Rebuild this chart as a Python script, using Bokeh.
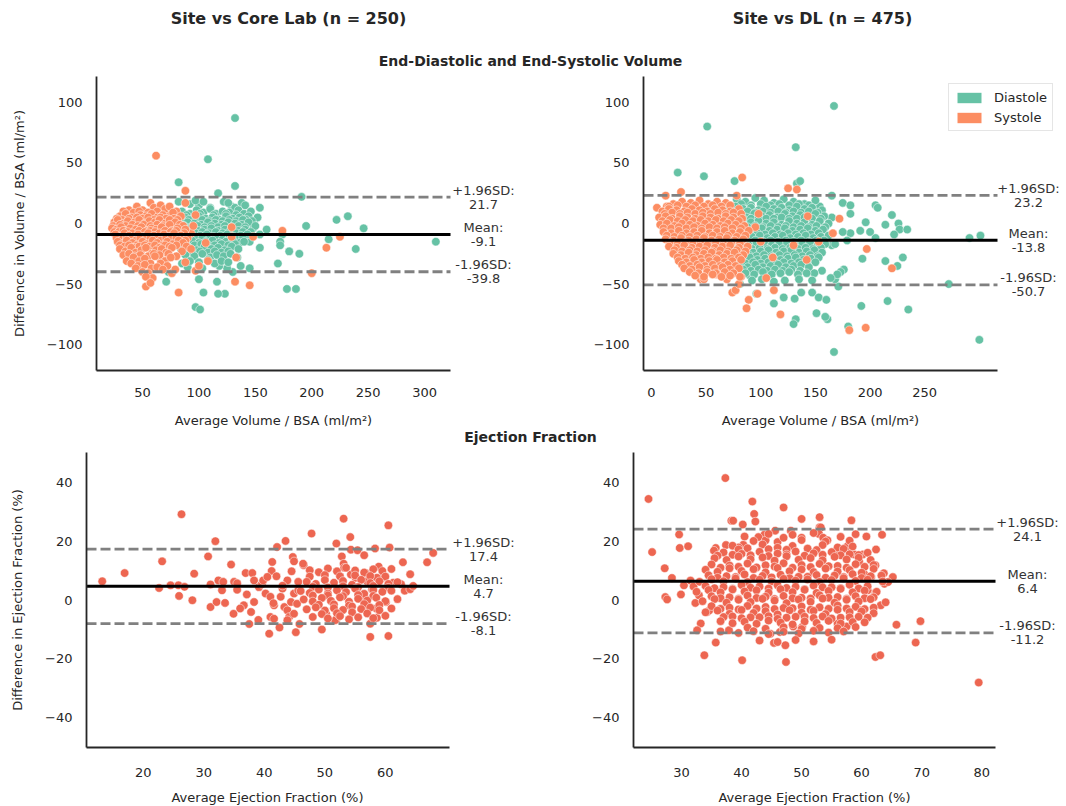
from bokeh.plotting import figure
from bokeh.layouts import column, row
from bokeh.models import Legend, LegendItem, Range1d, FixedTicker, CustomJSTickFormatter
from bokeh.embed import file_html
from bokeh.resources import INLINE
from bokeh.core.properties import value

# ---------------- data ----------------
COL_TITLES = ["Site vs Core Lab (n = 250)", "Site vs DL (n = 475)"]
SEC_TITLES = ["End-Diastolic and End-Systolic Volume", "Ejection Fraction"]
VOL_XLABEL = "Average Volume / BSA (ml/m²)"
VOL_YLABEL = "Difference in Volume / BSA (ml/m²)"
EF_XLABEL = "Average Ejection Fraction (%)"
EF_YLABEL = "Difference in Ejection Fraction (%)"
LEGEND_LABELS = ["Diastole", "Systole"]

# Bland-Altman statistics (mean, +1.96SD, -1.96SD)
STATS_VOL_CL = [-9.1, 21.7, -39.8]
STATS_VOL_DL = [-13.8, 23.2, -50.7]
STATS_EF_CL = [4.7, 17.4, -8.1]
STATS_EF_DL = [6.4, 24.1, -11.2]
STAT_NAMES = ["Mean:", "+1.96SD:", "-1.96SD:"]

# Site vs Core Lab, diastole (average, difference)
CL_DIA = [(132,87),(108,53),(82,34),(132,31),(117,25),(191,22),(122,18),(138,17),(129,14),(132,13),(222,3),(232,6),
          (195,-2),(246,-4),(310,-15),(215,-13),(239,-21),(174,-9),(172,-15),(172,-18),(180,-23),(189,-25),(170,-33),
          (178,-54),(186,-54),(154,-20),(145,-15),(149,2),(148,-4),(154,-9),(145,-37),(137,-35),(130,-40),(125,-37),
          (118,-35),(116,-48),(123,-58),(117,-58),(104,-57),(97,-69),(101,-71),(100,-46),(103,-37),(71,-48),(73,-40),
          (85,-33),(90,-36),(82,18),(92,16),(100,15),(110,13),(60,-18),(66,-22),(154,13),(141,15),(97,19),(104,18),(126,17),
          (85,10),(92,8),(98,11),(104,9),(110,12),(115,8),(121,10),(127,9),(135,11),(140,8),(146,10),
          (89,7),(101,8),(113,7),(124,8),(133,7),(144,6),
          (80,4),(88,5),(94,3),(100,6),(106,4),(112,5),(118,3),(124,6),(130,4),(136,5),(142,3),(152,5),
          (85,2),(91,3),(97,2),(103,3),(109,2),(115,3),(121,2),(127,3),(133,2),(139,3),(147,2),
          (76,0),(83,-1),(90,1),(96,0),(102,-1),(108,1),(114,0),(120,-1),(126,1),(132,0),(138,-1),(144,1),
          (80,-3),(87,-2),(93,-3),(99,-2),(105,-3),(111,-2),(117,-3),(123,-2),(129,-3),(135,-2),(141,-3),(150,-2),
          (78,-5),(86,-6),(93,-4),(99,-6),(105,-5),(111,-4),(117,-6),(123,-5),(129,-4),(135,-6),(141,-5),(160,-5),
          (84,-8),(91,-7),(97,-8),(103,-7),(109,-8),(115,-7),(121,-8),(127,-7),(133,-8),(139,-7),(146,-7),
          (74,-10),(82,-11),(89,-9),(95,-11),(101,-10),(107,-9),(113,-11),(119,-10),(125,-9),(131,-11),(137,-10),(143,-9),
          (85,-13),(91,-12),(97,-13),(103,-12),(109,-13),(115,-12),(121,-13),(127,-12),(133,-13),(139,-12),
          (80,-15),(87,-16),(94,-14),(100,-16),(106,-15),(112,-14),(118,-16),(124,-15),(130,-14),(136,-16),(140,-15),
          (89,-18),(96,-18),(102,-17),(108,-18),(114,-18),(120,-17),(126,-18),(132,-17),
          (84,-21),(91,-20),(98,-22),(105,-19),(111,-21),(117,-20),(123,-22),(129,-19),(135,-21),
          (94,-24),(101,-23),(108,-24),(114,-23),(120,-24),(126,-23),
          (88,-26),(96,-27),(103,-25),(110,-28),(116,-26),(122,-27),(128,-25),(134,-28),
          (92,-31),(100,-32),(108,-30),(114,-33),(120,-31),(126,-32)]

# Site vs Core Lab, systole
CL_SYS = [(62,56),(88,27),(88,17),(129,-3),(174,-6),(225,-11),(213,-20),(200,-41),(145,-51),(132,-48),(129,-11),
          (148,-11),(93,-8),(95,-2),(73,8),(72,-3),(66,-29),(133,-28),(106,-16),(108,-31),(97,7),(97,-39),(82,-57),(100,-35),
          (38,11),(45,14),(50,11),(57,17),(60,13),(66,15),(70,12),(74,14),(80,10),(42,9),
          (33,10),(47,10),(55,9),(63,10),(77,9),
          (30,6),(35,8),(40,5),(48,7),(53,6),(58,8),(63,5),(68,7),(78,4),(84,6),
          (27,4),(32,3),(38,4),(45,5),(50,4),(55,5),(60,3),(66,5),(71,4),(81,3),
          (25,1),(28,3),(33,0),(37,2),(43,1),(47,3),(52,0),(56,2),(61,1),(65,3),(70,0),(74,3),(79,1),(83,-1),
          (24,-2),(30,-1),(35,-2),(41,-1),(46,-2),(51,-1),(57,-2),(63,-1),(68,-2),(74,-1),(86,-2),
          (23,-4),(27,-5),(31,-3),(35,-6),(39,-4),(44,-5),(49,-3),(54,-6),(58,-4),(62,-5),(67,-3),(76,-6),(81,-4),(88,-5),
          (25,-7),(29,-7),(33,-6),(37,-7),(41,-8),(47,-6),(52,-7),(57,-6),(61,-7),(65,-8),(70,-6),(75,-7),(80,-6),(87,-8),
          (26,-9),(30,-11),(34,-8),(38,-10),(42,-12),(46,-9),(51,-11),(55,-8),(60,-10),(64,-12),(69,-9),(73,-11),(78,-8),
          (84,-10),(90,-12),
          (27,-12),(32,-13),(36,-12),(40,-13),(44,-14),(48,-12),(53,-13),(57,-12),(62,-13),(66,-14),(71,-12),(75,-13),
          (80,-12),(88,-14),
          (28,-15),(32,-17),(36,-14),(41,-16),(45,-18),(50,-15),(54,-17),(59,-14),(63,-16),(68,-18),(72,-15),(77,-17),
          (82,-14),(86,-16),
          (30,-18),(34,-19),(38,-18),(43,-20),(47,-19),(52,-18),(56,-19),(61,-18),(65,-20),(70,-18),(74,-19),(80,-18),(89,-19),
          (30,-21),(35,-23),(40,-20),(44,-24),(49,-22),(53,-20),(58,-25),(62,-22),(67,-21),(71,-24),(76,-20),(85,-23),(93,-21),
          (33,-26),(38,-25),(43,-27),(48,-26),(55,-27),(60,-25),(65,-26),(73,-25),(80,-27),
          (36,-31),(42,-28),(47,-31),(52,-29),(57,-33),(61,-27),(70,-31),(75,-28),(88,-32),
          (40,-33),(46,-35),(52,-34),(58,-37),(66,-33),(72,-35),
          (44,-37),(50,-40),(55,-41),(59,-45),(53,-44),(63,-36),(68,-38),(76,-41),(79,-38),
          (53,-52),(57,-49)]

# Site vs DL, diastole
DL_DIA = [(167,97),(51,80),(132,63),(24,42),(48,39),(76,35),(133,33),(136,35),(165,23),(205,15),(207,13),(220,7),
          (214,-1),(226,0),(227,-5),(222,-9),(234,-5),(291,-12),(301,-10),(272,-50),(300,-96),(167,-106),(235,-71),
          (216,-64),(192,-68),(180,-85),(161,-79),(159,-77),(151,-74),(132,-79),(130,-83),(112,-66),(96,-58),(121,-61),
          (131,-62),(137,-57),(147,-57),(153,-61),(160,-63),(171,-52),(168,-46),(176,-38),(173,-40),(170,-42),(164,-45),
          (156,-39),(149,-41),(147,-47),(193,-29),(214,-31),(230,-28),(225,-35),(196,1),(191,-6),(200,-7),(205,-12),
          (182,-8),(179,-14),(175,-7),(175,17),(182,15),(182,8),(165,-18),(168,-17),(165,5),(154,14),(141,15),(146,13),
          (76,3),(78,-14),(60,7),(67,-31),(79,-37),(90,-43),(81,-50),
          (78,20),(86,18),(95,21),(103,19),(112,17),(121,20),(130,18),(140,16),(150,19),
          (82,16),(91,15),(100,16),(109,15),(117,16),(126,15),(135,16),(144,15),
          (70,12),(77,14),(84,12),(91,13),(98,11),(105,14),(112,12),(119,13),(126,11),(133,14),(140,12),(147,13),(156,11),
          (74,10),(81,9),(88,10),(95,9),(102,10),(109,9),(116,10),(123,9),(130,10),(137,9),(144,10),(152,9),
          (66,6),(73,8),(80,7),(87,5),(94,8),(101,6),(108,7),(115,5),(122,8),(129,6),(136,7),(143,5),(150,8),(158,6),
          (70,4),(77,5),(84,4),(91,4),(98,5),(105,4),(112,4),(119,5),(126,4),(133,4),(140,5),(147,4),(155,4),
          (63,1),(70,0),(77,2),(84,-1),(91,1),(98,2),(105,0),(112,1),(119,-1),(126,2),(133,0),(140,1),(147,-1),(154,2),(162,0),
          (67,-2),(74,-3),(81,-2),(88,-3),(95,-2),(102,-3),(109,-2),(116,-3),(123,-2),(130,-3),(137,-2),(144,-3),(151,-2),(159,-3),
          (66,-5),(73,-6),(80,-4),(87,-6),(94,-5),(101,-4),(108,-6),(115,-5),(122,-4),(129,-6),(136,-5),(143,-4),(150,-6),(157,-5),
          (69,-8),(76,-9),(83,-8),(90,-9),(97,-8),(104,-9),(111,-8),(118,-9),(125,-8),(132,-9),(139,-8),(146,-9),(153,-8),
          (64,-11),(71,-12),(78,-10),(85,-12),(92,-11),(99,-10),(106,-12),(113,-11),(120,-10),(127,-12),(134,-11),(141,-10),
          (148,-12),(155,-11),(162,-10),
          (67,-14),(74,-15),(81,-14),(88,-15),(95,-14),(102,-15),(109,-14),(116,-15),(123,-14),(130,-15),(137,-14),(144,-15),
          (151,-14),(158,-14),
          (68,-17),(75,-18),(82,-16),(89,-18),(96,-17),(103,-16),(110,-18),(117,-17),(124,-16),(131,-18),(138,-17),(145,-16),
          (152,-18),(159,-17),
          (71,-20),(78,-21),(85,-20),(92,-21),(99,-20),(106,-21),(113,-20),(120,-21),(127,-20),(134,-21),(141,-20),(148,-21),(155,-20),
          (72,-23),(79,-24),(86,-22),(93,-24),(100,-23),(107,-22),(114,-24),(121,-23),(128,-22),(135,-24),(142,-23),(149,-22),(156,-24),
          (75,-26),(82,-27),(89,-26),(96,-27),(103,-26),(110,-27),(117,-26),(124,-27),(131,-26),(138,-27),(145,-26),(152,-27),
          (76,-29),(83,-30),(90,-28),(97,-30),(104,-29),(111,-28),(118,-30),(125,-29),(132,-28),(139,-30),(146,-29),(153,-28),
          (79,-32),(86,-33),(93,-32),(100,-33),(107,-32),(114,-33),(121,-32),(128,-33),(135,-32),(142,-33),(150,-32),
          (80,-35),(88,-36),(95,-34),(102,-36),(109,-35),(116,-34),(123,-36),(130,-35),(137,-34),(144,-36),
          (84,-38),(91,-39),(98,-38),(106,-39),(113,-38),(120,-39),(128,-38),(136,-39),
          (86,-41),(94,-42),(102,-40),(110,-42),(118,-41),(126,-40),(134,-42),(142,-41),
          (92,-47),(101,-46),(112,-48),(122,-47),(135,-46)]

# Site vs DL, systole
DL_SYS = [(83,38),(27,26),(13,23),(5,13),(14,14),(125,29),(133,28),(78,23),(143,6),(172,4),(166,-8),(153,-15),(130,-18),
          (111,-28),(142,-30),(197,-21),(220,-37),(112,-55),(97,-58),(89,-63),(87,-70),(74,-57),(77,-55),(118,-75),(181,-88),
          (196,-86),(20,-22),(45,-46),(48,-46),(60,-42),(69,-46),(82,-44),(80,-50),(95,-3),(100,-15),(105,-45),(98,8),
          (20,16),(28,18),(36,17),(44,19),(52,16),(60,18),(68,17),
          (16,14),(24,15),(32,14),(40,15),(48,14),(56,15),(64,14),(72,15),
          (10,10),(16,12),(23,11),(30,10),(37,12),(44,11),(51,10),(58,12),(65,11),(72,10),(80,12),
          (12,8),(19,9),(26,8),(33,9),(40,8),(47,9),(54,8),(61,9),(68,8),(75,9),(82,8),
          (7,5),(13,6),(19,4),(26,6),(33,5),(40,4),(47,6),(54,5),(61,4),(68,6),(75,5),(83,4),
          (10,2),(17,3),(24,2),(31,3),(38,2),(45,3),(52,2),(59,3),(66,2),(73,3),(80,2),
          (8,-1),(14,0),(21,-2),(28,0),(35,-1),(42,-2),(49,0),(56,-1),(63,-2),(70,0),(77,-1),(85,-2),
          (11,-4),(18,-4),(25,-3),(32,-4),(39,-3),(46,-4),(53,-3),(60,-4),(67,-3),(74,-4),(82,-4),
          (11,-7),(18,-8),(25,-6),(32,-8),(39,-7),(46,-6),(53,-8),(60,-7),(67,-6),(74,-8),(81,-7),(89,-6),
          (14,-10),(21,-11),(28,-10),(35,-11),(42,-10),(49,-11),(56,-10),(63,-11),(70,-10),(78,-11),(86,-10),
          (13,-13),(20,-14),(27,-12),(34,-14),(41,-13),(48,-12),(55,-14),(62,-13),(69,-12),(76,-14),(84,-13),
          (17,-16),(24,-17),(31,-16),(38,-17),(45,-16),(52,-17),(59,-16),(66,-17),(73,-16),(81,-17),
          (16,-19),(23,-20),(30,-18),(37,-20),(44,-19),(51,-18),(58,-20),(65,-19),(72,-18),(80,-20),(88,-19),
          (21,-22),(28,-23),(35,-22),(42,-23),(49,-22),(56,-23),(63,-22),(70,-23),(78,-22),(86,-23),
          (20,-25),(27,-26),(34,-24),(41,-26),(48,-25),(55,-24),(62,-26),(69,-25),(76,-24),(84,-26),
          (24,-28),(31,-29),(38,-28),(45,-29),(52,-28),(59,-29),(66,-28),(73,-29),(80,-28),
          (25,-31),(32,-32),(39,-30),(46,-32),(53,-31),(60,-30),(67,-32),(74,-31),(82,-30),
          (28,-34),(35,-35),(42,-34),(49,-35),(56,-34),(63,-35),(70,-34),(77,-35),
          (30,-37),(37,-38),(44,-36),(51,-38),(58,-37),(65,-36),(72,-38),(80,-37),
          (35,-40),(43,-41),(51,-40),(59,-41),(67,-40),(75,-41),
          (40,-43),(48,-44),(56,-42),(64,-44),(72,-43),(81,-44)]

# Site vs Core Lab, ejection fraction
CL_EF = [(13.2,6.4),(16.9,9.2),(22.6,4.1),(23.1,13.2),(24.5,5),(25.8,5),(26.8,4.5),(25.9,1.4),(26.3,29.3),(28.1,-0.1),
         (28.4,9),(30.7,14.9),(31.1,5.3),(31.1,-2.4),(31.9,20.1),(32.4,6.7),(33.2,6.2),(33,3.3),(32.1,-0.7),(33.5,-1),
         (34.5,12.1),(35,6.2),(35.5,5.7),(34.9,-4.7),(36.6,-1.8),(36.9,9.2),(38,9.2),(38.3,6.7),(37.1,1.9),(37.8,-4.1),
         (38.3,-0.7),(39.1,4.4),(39.6,5.5),(39.8,6.7),(40.8,-11.5),(41.3,13),(41.2,9.9),(40.5,7.9),(40.2,2.2),(41,1.1),
         (41.6,-1.8),(41,-5.8),(41.6,-6.4),(42.1,18.1),(43.5,20.2),(42.7,1.1),(43,3.9),(43.8,6.7),(43.3,-2.4),(43.8,-3.5),
         (44.4,-0.7),(44.9,2.2),(44.1,-5.8),(44.9,-4.7),(44.7,14.7),(44.9,13.2),(45.2,-11),(45.6,6.2),(45.6,3.3),(45.4,-1.3),
         (46.5,11.9),(46.4,12.4),(47.8,22.7),(49.5,-10.1),(50.2,-4.7),(51.9,-6.7),(51.9,19.3),(53.1,27.8),(54.2,21.5),
         (54.3,17.2),(55.4,17),(52.8,14.9),(53.1,12.4),(56.5,15.3),(58.3,17.6),(60.5,25.5),(60.7,17.9),(62.9,12.9),
         (64.1,8.8),(66.9,12.9),(67.9,16.1),(57.5,-8.1),(58.6,-6.1),(57.5,-12.6),(60.5,-12.3),(51.7,-6.9),(61.3,5.9),
         (62.6,5.4),(63.2,3.2),(64.1,3.7),(64.6,4.8),(60.1,-0.7),(58.5,-2.9),(57.1,-2.9),(56.8,0.3),(56,1.3),(56.8,9.1),
         (55.1,7.6),(54.3,8.7),(53.2,11),(58.9,11.4),(59.4,7.4),(58.6,7.6),(57,6.4),(57.8,3.6),
         (47.5,10.2),(49,9.5),(50.5,10.8),(52,9.8),(53.5,11),(55,10.1),(56.5,9.4),(58,10.5),(59.5,9.9),(61,10.6),
         (47.5,8),(50,8.5),(52.5,8.1),(55,8.4),(57.5,8.2),(60,8.0),
         (47,6.2),(48.5,5.5),(50,6.8),(51.5,5.9),(53,6.5),(54.5,5.2),(56,6.9),(57.5,5.8),(59,6.4),(60.5,5.5),(62,6.1),
         (48,4.5),(50.5,4.3),(53,4.7),(55.5,4.4),(58,4.8),(60.5,4.2),
         (46,3.1),(47.5,2.4),(49,3.6),(50.5,2.2),(52,3.3),(53.5,2.7),(55,3.9),(56.5,2.1),(58,3.4),(59.5,2.8),(61,3.2),
         (48,1.5),(50.5,1.6),(53,1.3),(55.5,1.7),(58,1.4),
         (46.5,0.2),(48,-0.5),(49.5,0.7),(51,-0.3),(52.5,0.9),(54,-0.6),(55.5,0.4),(57,-0.2),(58.5,0.8),(60,-0.4),(62,0.3),
         (49,-1.6),(51.5,-1.5),(54,-1.9),(56.5,-1.4),(59,-1.7),
         (47,-3.2),(48.5,-2.5),(50,-3.6),(51.5,-2.8),(53,-3.4),(54.5,-2.2),(56,-3.1),(57.5,-2.6),(59,-3.5),(61,-2.9),
         (49.5,-4.8),(52,-4.5),(54.5,-4.2),(57,-4.6),
         (48,-5.8),(50.5,-6.3),(52.5,-5.5),(54,-6.6),(55.5,-5.9),(58,-6.2),(60,-5.4),
         (42,8.1),(43,4.9),(44.5,9.8),(41.5,-1.1),(43.8,-6.9),(45.8,-8.2),(42.5,-9.4),(39,-6.8),(37.5,-8.2),(36,-2.9),(35.5,3.5)]

# Site vs DL, ejection fraction
DL_EF = [(24.5,34.4),(37.3,41.5),(41.8,33.5),(47,31.5),(42.1,29.3),(42.3,26.7),(38.3,27),(38.6,27),(40.2,25.7),(50,27.6),
         (53,28.2),(53,24.8),(58.3,27.1),(25.1,16.3),(27.2,10.8),(28.4,7.5),(27.3,1),(27.6,0.2),(29.9,1.9),(29.7,17.7),
         (31.1,18.3),(29.6,22.3),(30.4,5),(31.5,6.6),(32,4.6),(32.3,-1),(32.9,1.6),(33.2,-8),(32.6,-10.3),(34.3,-4.1),
         (34.6,-3.6),(35.7,-14.5),(33.8,-18.8),(40.1,-20.5),(47.4,-21.1),(47.3,-15.4),(45.4,-14.6),(36.5,-10.7),(37.9,-10.3),
         (44.8,-11.5),(46.4,-10.9),(48.6,-9),(50.1,-9.2),(56,-8.1),(57.5,-9),(62.3,-19.4),(63.1,-18.8),(65.8,-8.4),
         (69.8,-7.2),(69,-14.5),(79.5,-28.1),(63.2,-1.8),(62.3,2.5),(63.7,9.1),(63.3,8.3),(65.2,7.8),(63.8,5.5),(64.4,6.1),
         (62.4,17.2),(63.4,22.2),(60.8,21.6),(59,22.4),(60.2,15.5),(58.8,15.5),(59.9,-3.5),(61,3.3),(60.4,8.9),(61.6,7.8),
         (57.6,18.2),(56.8,17.1),(55.9,17.1),(62.3,11.8),(59.6,13),(53.2,24.7),(52.9,22.5),(53.6,21.2),(54.3,20.3),(50,21.2),
         (45.6,23.6),(48.2,23.6),(48.5,22.2),(43.8,22.2),(42.8,21.4),(44,20.3),(40.3,18.8),(39.5,17.9),(37.4,18.7),
         (35.7,17.7),(35.4,16.8),
         (42,20.1),(46,19.7),(50,20.4),(54,19.9),(58,20.2),
         (38.5,18.5),(41,17.6),(43.5,18.9),(46,17.8),(48.5,18.4),(51,17.5),(53.5,18.7),(56,17.9),(58.5,18.2),
         (39.5,17.2),(44.5,17.3),(47.5,17.1),(52.5,17.0),(57,17.4),
         (37,16.2),(40,15.7),(43,16.4),(46,15.8),(49,16.5),(52,15.9),(55,16.3),(58,15.6),(61,16.1),
         (36,15.1),(38.5,15.4),(41.5,15.2),(44.5,15.0),(47.5,15.5),(50.5,15.1),(53.5,15.4),(56.5,15.2),(59.5,15.3),
         (35.5,14.2),(37.5,13.6),(39.5,14.8),(41.5,13.9),(43.5,14.5),(45.5,13.4),(47.5,14.9),(49.5,13.7),(51.5,14.3),
         (53.5,13.5),(55.5,14.7),(57.5,13.8),(59.5,14.4),(61.5,13.6),
         (35,12.1),(38,11.7),(41,12.4),(44,11.8),(47,12.5),(50,11.9),(53,12.3),(56,11.6),(59,12.2),(62,11.9),
         (36.5,11.0),(39.5,11.3),(42.5,11.1),(45.5,11.4),(48.5,11.0),(51.5,11.2),(54.5,11.5),(57.5,11.0),(60.5,11.3),
         (34,10.3),(36,9.6),(38,10.8),(40,9.9),(42,10.5),(44,9.4),(46,10.9),(48,9.8),(50,10.4),(52,9.5),(54,10.7),(56,9.7),
         (58,10.2),(60,9.3),(62,10.6),
         (34.5,8.4),(37.5,8.1),(40.5,8.7),(43.5,8.2),(46.5,8.6),(49.5,7.9),(52.5,8.5),(55.5,8.3),(58.5,8.8),(61.5,8.1),
         (36,7.6),(39,7.8),(42,7.5),(45,7.7),(48,7.4),(51,7.9),(54,7.6),(57,7.8),(60,7.5),
         (33,6.2),(35,7.1),(37,6.4),(39,7.3),(41,6.1),(43,6.9),(45,6.3),(47,7.2),(49,6.6),(51,7),(53,6.2),(55,6.8),(57,7.4),
         (59,6.5),(61,6.9),(63.5,6.3),
         (34,4.8),(37,4.4),(40,5.1),(43,4.6),(46,5.0),(49,4.5),(52,4.9),(55,4.3),(58,5.2),(61,4.7),
         (35.5,4.0),(38.5,3.8),(41.5,4.2),(44.5,3.9),(47.5,4.1),(50.5,3.7),(53.5,4.3),(56.5,4.0),(59.5,3.9),
         (32.5,2.8),(34.5,3.4),(36.5,2.6),(38.5,3.6),(40.5,2.9),(42.5,3.3),(44.5,2.5),(46.5,3.7),(48.5,2.7),(50.5,3.5),
         (52.5,2.4),(54.5,3.1),(56.5,3.8),(58.5,2.6),(60.5,3.2),(62.5,2.8),
         (35,1.3),(38,0.9),(41,1.5),(44,1.1),(47,1.4),(50,0.8),(53,1.6),(56,1.0),(59,1.3),(62,0.9),
         (36.5,0.6),(39.5,0.4),(42.5,0.7),(45.5,0.3),(48.5,0.6),(51.5,0.5),(54.5,0.8),(57.5,0.4),(60.5,0.6),
         (33.5,-0.4),(35.5,0.3),(37.5,-0.9),(39.5,0.1),(41.5,-0.7),(43.5,0.4),(45.5,-0.2),(47.5,-1.1),(49.5,0.2),(51.5,-0.6),
         (53.5,0.5),(55.5,-0.9),(57.5,0.1),(59.5,-0.5),(61.5,0.3),(64,-0.8),
         (35,-2.1),(38,-2.6),(41,-2.0),(44,-2.4),(47,-2.7),(50,-2.2),(53,-2.5),(56,-1.9),(59,-2.3),(62,-2.6),
         (36.5,-3.0),(39.5,-3.2),(42.5,-2.9),(45.5,-3.1),(48.5,-2.8),(51.5,-3.3),(54.5,-3.0),(57.5,-2.9),(60.5,-3.1),
         (34,-4.2),(36,-3.6),(38,-4.7),(40,-3.4),(42,-4.4),(44,-3.8),(46,-4.9),(48,-3.5),(50,-4.3),(52,-3.7),(54,-4.8),
         (56,-3.3),(58,-4.1),(60,-3.9),(62,-4.5),
         (38.5,-5.6),(41.5,-5.9),(44.5,-5.5),(47.5,-6.0),(50.5,-5.7),(53.5,-5.6),(56.5,-6.0),(59.5,-5.7),
         (37,-5.8),(40,-6.2),(43,-5.9),(46,-6.4),(49,-5.7),(52,-6.1),(55,-6.3),(58,-5.9),(61,-6.0),
         (36.5,-7.2),(38.5,-7.9),(40.5,-7.4),(42.5,-8.1),(44.5,-7.0),(46.5,-7.7),(48.5,-8.3),(50.5,-7.3),(52.5,-7.8),
         (54.5,-7.1),(56.5,-8.0),(58.5,-7.5),(60.5,-7.6),
         (41,-9.4),(44,-9.8),(47,-9.3),(50,-9.9),(53,-9.5),(56,-9.6),(59,-9.2),
         (39.5,-11.2),(42,-10.6),(44.5,-11.6),(47,-10.8),(49.5,-11.4),(52,-10.5),(54.5,-11.1),(57,-10.7),
         (43,-13.8),(46,-14.3),(49,-13.6),(52,-14.1),(55,-13.5),
         (40.5,21.6),(44.5,22.5),(47,21.2),(52,22.8),(56.5,21.5)]

VOL_XTICKS_CL = [50, 100, 150, 200, 250, 300]
VOL_XTICKS_DL = [0, 50, 100, 150, 200, 250]
VOL_YTICKS = [-100, -50, 0, 50, 100]
EF_XTICKS_CL = [20, 30, 40, 50, 60]
EF_XTICKS_DL = [30, 40, 50, 60, 70, 80]
EF_YTICKS = [-40, -20, 0, 20, 40]

GREEN = "#66c2a5"
ORANGE = "#fc8d62"
RED = "#ed6651"
TXT = "#262626"
FONT = "DejaVu Sans"

MINUS_FMT = "return tick < 0 ? '\\u2212' + Math.abs(tick) : String(tick);"


def make_panel(xr, yr, xticks, yticks, ylabel, w, h, bl, br, bb, tick_so):
    # frame widened to the right so the limit labels / legend are not clipped;
    # the bottom axis line is bounded to the real axis range
    data_fw = w - bl - br
    x_ext = xr[1] + br * (xr[1] - xr[0]) / data_fw
    p = figure(width=w, height=h, x_range=Range1d(xr[0], x_ext), y_range=Range1d(*yr),
               output_backend="svg", toolbar_location=None,
               min_border_left=bl, min_border_right=0, min_border_top=0, min_border_bottom=bb)
    p.xgrid.visible = False
    p.ygrid.visible = False
    p.outline_line_color = None
    p.background_fill_color = "white"
    p.border_fill_color = "white"
    for ax, ticks in ((p.xaxis[0], xticks), (p.yaxis[0], yticks)):
        ax.ticker = FixedTicker(ticks=ticks)
        ax.formatter = CustomJSTickFormatter(code=MINUS_FMT)
        ax.major_tick_line_color = None
        ax.minor_tick_line_color = None
        ax.major_tick_out = 0
        ax.major_tick_in = 0
        ax.axis_line_color = TXT
        ax.axis_line_width = 1.8
        ax.major_label_text_font = FONT
        ax.major_label_text_font_size = "13px"
        ax.major_label_text_color = TXT
        ax.axis_label_text_font = FONT
        ax.axis_label_text_font_size = "13px"
        ax.axis_label_text_font_style = "normal"
        ax.axis_label_text_color = TXT
    p.xaxis.bounds = (xr[0], xr[1])
    p.xaxis.major_label_standoff = tick_so
    if ylabel:
        p.yaxis.axis_label = ylabel
    p.yaxis.major_label_standoff = 14
    p.yaxis.axis_label_standoff = 17
    return p


def add_limits(p, stats, xr, xoff):
    mean, hi, lo = stats
    x0, x1 = xr
    p.segment(x0=[x0, x0], x1=[x1, x1], y0=[hi, lo], y1=[hi, lo], line_color="#808080",
              line_width=2.8, line_dash="10 4")
    p.segment(x0=[x0], x1=[x1], y0=[mean], y1=[mean], line_color="black", line_width=3)
    heads = [STAT_NAMES[1], STAT_NAMES[0], STAT_NAMES[2]]
    locs = [hi, mean, lo]
    vals = ["%.1f" % v for v in locs]
    common = dict(text_align="center", text_baseline="middle", text_font=value(FONT),
                  text_font_size="13px", text_color="#333333", x_offset=xoff)
    p.text(x=[x1] * 3, y=locs, text=heads, y_offset=-7, **common)
    p.text(x=[x1] * 3, y=locs, text=vals, y_offset=7, **common)


def scatter(p, pts, color):
    xs = [a for a, b in pts]
    ys = [b for a, b in pts]
    return p.scatter(xs, ys, size=8.5, fill_color=color, line_color="white", line_width=0.5)


def legend_proxy(p, pts, color):
    # invisible rect renderer on the series data, so the legend shows a filled patch
    xs = [a for a, b in pts]
    ys = [b for a, b in pts]
    return p.rect(x=xs, y=ys, width=0, height=0, fill_color=color, line_color=None, visible=False)


def text_strip(h, items):
    f = figure(width=1066, height=h, x_range=Range1d(0, 1066), y_range=Range1d(h, 0),
               output_backend="svg", toolbar_location=None, x_axis_location=None, y_axis_location=None,
               min_border=0)
    f.outline_line_color = None
    f.grid.visible = False
    for (x, y, txt, b, s) in items:
        f.text(x=[x], y=[y], text=[txt], text_align="center", text_baseline="middle",
               text_font=value(FONT), text_font_style="bold" if b else "normal",
               text_font_size=s, text_color=TXT)
    return f


# header: column titles and first section title
head = text_strip(76, [(288, 18, COL_TITLES[0], True, "16px"), (822, 18, COL_TITLES[1], True, "16px"),
                       (530, 60, SEC_TITLES[0], True, "14px")])

# panels
XR1, XR2, XR3, XR4 = (9.2, 323.0), (-7.3, 316.6), (10.6, 70.6), (22.0, 82.3)

p1 = make_panel(XR1, (-121.3, 121.3), VOL_XTICKS_CL, VOL_YTICKS, VOL_YLABEL, 560, 330, 96, 110, 36, 17)
scatter(p1, CL_DIA, GREEN)
scatter(p1, CL_SYS, ORANGE)
add_limits(p1, STATS_VOL_CL, XR1, 33)

p2 = make_panel(XR2, (-121.3, 121.3), VOL_XTICKS_DL, VOL_YTICKS, None, 506, 330, 83, 69, 36, 17)
scatter(p2, DL_DIA, GREEN)
scatter(p2, DL_SYS, ORANGE)
add_limits(p2, STATS_VOL_DL, XR2, 31)
rd = legend_proxy(p2, DL_DIA, GREEN)
rs = legend_proxy(p2, DL_SYS, ORANGE)
leg = Legend(items=[LegendItem(label=LEGEND_LABELS[0], renderers=[rd]),
                    LegendItem(label=LEGEND_LABELS[1], renderers=[rs])],
             location=(305, 239), border_line_color="#cccccc", border_line_width=1,
             background_fill_alpha=0.9, padding=5, spacing=4, glyph_width=30, glyph_height=13,
             label_height=16, label_standoff=10, label_text_font=FONT, label_text_font_size="13px",
             label_text_color=TXT, margin=0, inactive_fill_alpha=0.0)
p2.add_layout(leg, "center")

# strip between rows: x-axis labels of the top row and the second section title
mid = text_strip(46, [(273, 14, VOL_XLABEL, False, "13px"), (820, 14, VOL_XLABEL, False, "13px"),
                      (530, 30, SEC_TITLES[1], True, "14px")])

p3 = make_panel(XR3, (-50.4, 50.4), EF_XTICKS_CL, EF_YTICKS, EF_YLABEL, 560, 334, 86, 111, 39, 20)
scatter(p3, CL_EF, RED)
add_limits(p3, STATS_EF_CL, XR3, 34)

p4 = make_panel(XR4, (-50.2, 50.2), EF_XTICKS_DL, EF_YTICKS, None, 506, 334, 73, 71, 39, 20)
scatter(p4, DL_EF, RED)
add_limits(p4, STATS_EF_DL, XR4, 32)

foot = text_strip(20, [(267, 11, EF_XLABEL, False, "13px"), (814, 11, EF_XLABEL, False, "13px")])

layout = column(head, row(p1, p2, spacing=0), mid, row(p3, p4, spacing=0), foot, spacing=0)

with open("out.html", "w", encoding="utf-8") as f:
    f.write(file_html(layout, INLINE))
